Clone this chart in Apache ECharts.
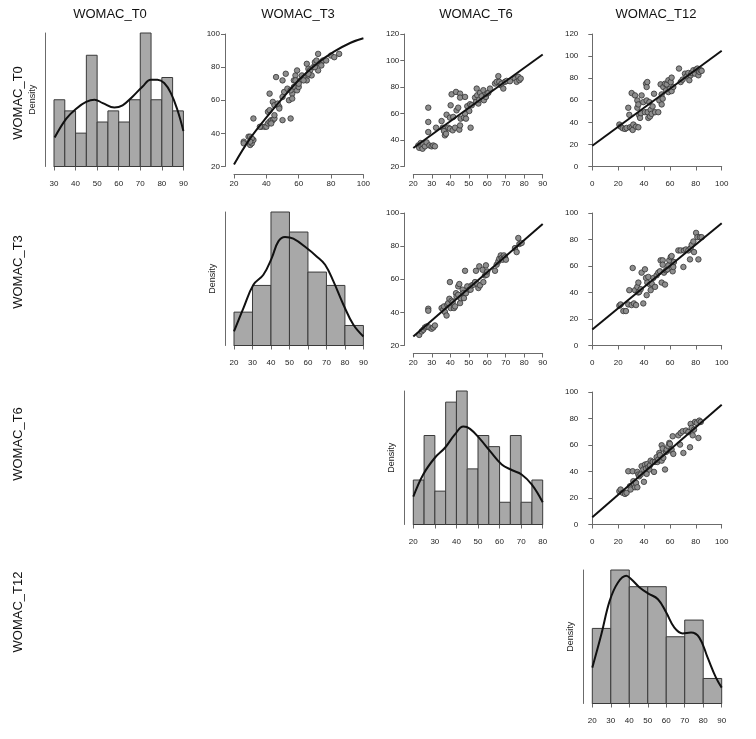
<!DOCTYPE html>
<html>
<head>
<meta charset="utf-8">
<script src="https://cdn.jsdelivr.net/npm/echarts@6/dist/echarts.min.js"></script>
<style>html,body{margin:0;padding:0;background:#fff}#c{width:756px;height:739px}</style>
</head>
<body>
<div id="c"></div>
<script>
// ---------- DATA ----------
const varNames = ['WOMAC_T0', 'WOMAC_T3', 'WOMAC_T6', 'WOMAC_T12'];

// Histograms: bin edges and counts
const histT0Edges = [30,35,40,45,50,55,60,65,70,75,80,85,90];
const histT0Counts = [6,5,3,10,4,5,4,6,12,6,8,5];
const histT3Edges = [20,30,40,50,60,70,80,90];
const histT3Counts = [5,9,20,17,11,9,3];
const histT6Edges = [20,25,30,35,40,45,50,55,60,65,70,75,80];
const histT6Counts = [4,8,3,11,12,5,8,7,2,8,2,4];
const histT12Edges = [20,30,40,50,60,70,80,90];
const histT12Counts = [9,16,14,14,8,10,3];

// Density curves (in count units of each histogram)
const densT0 = [[30.3,2.6],[35.7,4.3],[40.3,5.2],[44.9,5.8],[48.8,6.0],[52.6,5.7],[58,5.3],[61.8,5.5],[66.5,6.3],[71.1,7.2],[74.9,7.8],[78,7.8],[81.1,7.5],[84.2,6.6],[87.2,5.1],[90,3.2]];
const densT3 = [[20,2.1],[25.1,5.6],[30.5,9.1],[35.9,10.6],[40.4,13.1],[44,15.6],[47.6,16.25],[52.1,16],[59.3,14.6],[64.7,13.35],[69.3,12.1],[73.8,9.6],[79.2,6.1],[84.6,3.1],[90,1.35]];
const densT6 = [[20,2.5],[24.6,4.5],[30,6.0],[34.7,6.9],[39.3,8.1],[43.2,8.8],[46.3,8.6],[50.9,7.7],[55.6,6.6],[61,5.4],[65.6,4.9],[70.2,4.5],[74.9,3.6],[80,2.0]];
const densT12 = [[20,4.3],[24.9,8.3],[29.4,12.3],[33.9,14.5],[38.4,15.3],[41.1,14.9],[45.6,13.9],[50.1,13.2],[55.5,12.5],[60,10.9],[64.4,9.1],[68.9,8.4],[73.4,8.5],[77.9,7.9],[82.4,5.5],[86.9,3.1],[90,1.9]];

// Scatter panels: [x, y]
const ptsT3_T0 = [[26,35],[26,34],[29,38],[30,38],[30,33],[31,34],[32,36],[31,37],[32,49],[30,35],[37,44],[39,44],[40,44],[41,46],[42,47],[43,48],[44,48],[45,49],[41,53],[42,54],[44,59],[45,57],[42,64],[45,51],[46,74],[48,56],[48,55],[50,48],[50,72],[51,65],[52,76],[53,67],[54,60],[55,49],[56,64],[56,61],[57,72],[57,68],[58,75],[58,72],[59,66],[59,78],[60,68],[61,72],[62,75],[64,74],[65,82],[66,79],[65,72],[66,75],[67,78],[68,75],[69,80],[70,83],[72,88],[71,84],[72,78],[73,82],[74,83],[75,84],[77,84],[80,87],[82,86],[85,88],[60,70],[63,72],[55,66],[47,58],[43,46],[50,62],[36,44],[66,76],[74,81],[70,80]];
const curveT3_T0 = [[20,21.2],[29.9,36.8],[40.3,49.9],[50.7,62],[61,73.1],[71.4,82.2],[81.8,89.3],[92.1,94.7],[100,97.4]];

const ptsT6_T0 = [[22.7,35.9],[23.2,34.1],[24,37.7],[24.5,35.2],[25,33.4],[25.4,36.7],[26.3,35.2],[27.2,38.2],[28.1,64.4],[28.1,53.6],[28.1,46],[28.7,35.9],[29.9,35.2],[30.8,35.9],[31.7,35.2],[32.3,49.3],[35.3,54.3],[35.9,49.3],[36.6,46.8],[37.1,43.5],[37.7,44.7],[38,59.1],[38.9,49.3],[39.8,56.9],[39.8,48.5],[40.2,66.2],[40.7,74.5],[41.3,47.3],[41.6,57.4],[42.6,49.3],[43.1,76.3],[43.4,62.4],[44.3,64.4],[45.3,75],[45.3,72],[44.9,47.8],[45.3,51],[45.6,56.1],[47.4,56.9],[48,72.5],[48,59.9],[48.5,56.1],[49.2,65.5],[51,49.3],[50.3,61.9],[50.7,67],[51.6,66.2],[53.4,72],[53.9,68.7],[54.3,78.8],[54.6,73.8],[55.2,67.5],[55.7,70.5],[56.1,75.6],[57,73],[57.9,77.6],[58.2,70],[59.3,72.5],[59.7,75],[60.6,75.6],[61.5,78.8],[64.2,82.6],[65.1,83.9],[66,88.2],[66.5,83.9],[67.3,81.4],[67.8,82.6],[68.7,78.8],[69.6,83.9],[70.5,84.6],[72.3,84.4],[75,86.4],[75.9,83.9],[76.8,87.7],[77.4,85.2],[78.1,86.4]];
const lineT6_T0 = [[20,34],[90,104.5]];

const ptsT12_T0 = [[20.9,38],[21.9,36.1],[23.5,34.6],[25.3,34],[26.5,34.9],[27.8,53.2],[28.6,46.8],[29.1,35.5],[30.4,34.9],[30.4,66.5],[31.2,33.1],[31.7,38],[33,64.4],[33.8,36.1],[34.8,53.2],[34.8,59.8],[35.6,35.5],[35.6,56.2],[36.3,46.2],[36.9,44],[37.6,48.3],[38.1,64.4],[39.4,58.3],[40.7,49.2],[41.5,75],[42,72],[42.5,76.5],[42,59.8],[42.8,49.2],[43.3,44],[44.1,58.3],[44.6,45.3],[45.1,51.3],[45.9,47.7],[46.6,54.4],[47.7,65.9],[48.5,49.2],[51,49.2],[51.8,59.8],[52.8,74.4],[53.6,65.3],[53.6,56.2],[54.4,61.4],[54.9,72],[56.2,75],[57,69],[57.5,74.4],[58.8,78.1],[58.8,67.4],[60,70.5],[60.6,76.5],[61.3,80.5],[61.3,68.3],[62.6,72],[67,88.7],[68.3,76.5],[69.8,78.7],[71.6,84.1],[72.9,81.7],[74.2,84.7],[75,78.1],[76,82.6],[76.8,84.7],[78.1,87.2],[79.4,84.1],[80.2,87.8],[81.2,88.7],[82,82.6],[82.7,85.7],[83.8,87.2],[84.5,86.6]];
const lineT12_T0 = [[0,18.8],[100,104.8]];

const ptsT6_T3 = [[23.2,26.4],[24.5,28.5],[25.4,29.5],[26.3,30.9],[27.2,31.5],[28.1,42.2],[28.1,41],[28.7,30.9],[29.9,30.1],[30.8,30.9],[31.7,32.1],[35.3,42.6],[36.2,41.6],[36.6,43.6],[37.1,40.2],[38,38.1],[38.4,44.6],[38.9,45.6],[39.5,48.2],[39.8,58.3],[40.2,42.6],[40.7,47],[41.3,46.2],[42,42.6],[42.6,43.6],[43.1,51.6],[43.4,49.6],[44.3,50.6],[44.3,55.7],[44.9,57.1],[45.3,45.6],[45.6,48.6],[46.7,53.7],[47.1,51.6],[47.4,48.6],[48,65.1],[48.5,51.6],[49.2,55.7],[50.3,53.7],[51,53.7],[51.6,56.3],[52.5,56.7],[53.4,58.3],[53.9,65.1],[54.6,57.1],[55.2,54.7],[55.7,67.8],[56.1,56.3],[57.5,65.7],[57.9,58.3],[58.8,62.3],[59.3,68.4],[59.7,62.7],[60,64.7],[64.2,65.1],[65.1,68.8],[66,70.8],[66.5,72.4],[67.3,74.4],[67.8,72.8],[68.3,71.8],[69,74.4],[69.6,73.2],[70.1,71.8],[75,78.8],[75.9,76.4],[76.8,84.9],[77.4,81.3],[78.6,81.9]];
const lineT6_T3 = [[20,25.4],[90,93.3]];

const ptsT12_T3 = [[20.9,30],[21.9,31],[24,26],[26,26],[27.8,31],[28.6,41.75],[30.4,30.5],[31.2,58.5],[32.2,31.75],[33,41.75],[33.8,30.5],[34.8,44.25],[35.6,47.5],[35.6,40],[36.3,40.5],[37.4,42.5],[38.1,55],[39.4,31.75],[40.7,57.5],[41.5,51],[42,38],[42.5,47.5],[43.3,51.75],[44.6,46],[45.1,41.75],[45.9,46.75],[47.2,51],[48.5,44.25],[49.7,53],[51,55],[52.3,56],[52.8,64.25],[53.6,47.5],[54.4,64.25],[54.4,61],[55.4,55],[56.2,46],[57,56.75],[58,57.5],[58.8,60.5],[59.5,64.25],[60.6,66.75],[61.3,67.5],[62.1,56],[62.6,59.25],[63.1,63],[66.5,71.75],[68.3,71.75],[70.4,59.25],[70.9,71.75],[72.4,72.5],[74.2,71.75],[75.5,65],[76,73.5],[76.8,76],[78.1,78.5],[78.6,70.5],[80.2,85],[81.2,81.75],[82,65],[83.2,81.75],[84.5,81.75]];
const lineT12_T3 = [[0,12],[100,92.3]];

const ptsT12_T6 = [[20.9,25.1],[21.9,26.4],[23.5,23.9],[25.3,23.1],[26.5,23.9],[27.8,40.2],[29.1,28.9],[29.6,26.4],[31.2,40.2],[31.7,32.7],[32.2,30.2],[33,28.1],[33.8,31.4],[34.8,28.1],[34.8,39.7],[35.6,37.7],[36.3,36.4],[37.4,37.7],[38.1,44],[39.4,41.5],[39.9,32.2],[40.7,45.2],[41.5,42.2],[42,38.2],[42.5,45.7],[43.3,43.2],[44.1,41.5],[44.6,44.7],[45.1,48.2],[46.6,47.2],[47.7,39.7],[48.5,47.2],[49.7,50.8],[50.3,47.2],[51,49],[51.8,54],[52.3,52.3],[53.6,48.2],[53.6,59.8],[54.4,57.3],[54.9,50.3],[56.2,41.5],[57,54.8],[57.5,56.5],[58.8,59],[59.5,61.6],[60,60.8],[60.6,55.8],[61.3,56.5],[62.1,66.6],[62.6,53.3],[66.5,67.3],[67.8,60.3],[68.3,69.1],[69.8,70.4],[70.4,54],[72.4,70.9],[74.2,69.8],[75.5,58.3],[76,75.9],[76.8,72.9],[77.6,67.3],[78.6,71.6],[79.4,77.4],[80.7,76.6],[82,65.3],[82.7,78.4],[83.8,77.4]];
const lineT12_T6 = [[0,5.5],[100,90.3]];

// ---------- LAYOUT ----------
const colLeft = [54, 234, 413.3, 592.3];
const rowTop = [34, 213, 392, 571];
const panelW = 129.4, panelH = 132.5;

const AX = '#6b6b6b', TXT = '#222', FONT = 'Liberation Sans, Arial, sans-serif';

const grids = [], xAxes = [], yAxes = [], series = [];

function addPanel(r, c, xr, yr, hist) {
  const gi = grids.length;
  grids.push({left: colLeft[c], top: rowTop[r] - (hist ? 1 : 0), width: panelW, height: panelH + (hist ? 1 : 0)});
  xAxes.push({
    gridIndex: gi, type: 'value', min: xr[0], max: xr[1], interval: xr[2], offset: 8,
    axisLine: {show: true, lineStyle: {color: AX, width: 1}},
    axisTick: {show: true, length: 4, lineStyle: {color: AX}},
    axisLabel: {fontSize: 8, color: TXT, margin: 5, fontFamily: FONT, showMinLabel: true, showMaxLabel: true},
    splitLine: {show: false}
  });
  if (hist) {
    yAxes.push({
      gridIndex: gi, type: 'value', min: 0, max: yr[1], offset: 9,
      name: 'Density', nameLocation: 'middle', nameGap: 8,
      nameTextStyle: {fontSize: 9, color: TXT, fontFamily: FONT},
      axisLine: {show: true, lineStyle: {color: AX, width: 1}},
      axisTick: {show: false}, axisLabel: {show: false}, splitLine: {show: false}
    });
  } else {
    yAxes.push({
      gridIndex: gi, type: 'value', min: yr[0], max: yr[1], interval: yr[2], offset: 9,
      axisLine: {show: true, lineStyle: {color: AX, width: 1}},
      axisTick: {show: true, length: 4, lineStyle: {color: AX}},
      axisLabel: {fontSize: 8, color: TXT, margin: 5, fontFamily: FONT, showMinLabel: true, showMaxLabel: true},
      splitLine: {show: false}
    });
  }
  return gi;
}

function addHist(r, c, edges, counts, dens, xr) {
  const gi = addPanel(r, c, xr, [0, Math.max(...counts)], true);
  const data = counts.map((v, i) => [edges[i], edges[i + 1], v]);
  series.push({
    type: 'custom', xAxisIndex: gi, yAxisIndex: gi, data: data,
    encode: {x: [0, 1], y: 2},
    renderItem: function (params, api) {
      const p0 = api.coord([api.value(0), 0]);
      const p1 = api.coord([api.value(1), api.value(2)]);
      return {type: 'rect', shape: {x: p0[0], y: p1[1], width: p1[0] - p0[0], height: p0[1] - p1[1]},
        style: {fill: '#a8a8a8', stroke: '#3a3a3a', lineWidth: 1}};
    }
  });
  series.push({type: 'line', xAxisIndex: gi, yAxisIndex: gi, data: dens, smooth: 0.4, showSymbol: false,
    lineStyle: {color: '#111', width: 2}, z: 5});
}

function addScatter(r, c, xr, yr, pts, line, smooth) {
  const gi = addPanel(r, c, xr, yr, false);
  series.push({type: 'scatter', xAxisIndex: gi, yAxisIndex: gi, data: pts, symbolSize: 5.5,
    itemStyle: {color: '#8e8e8e', borderColor: '#333', borderWidth: 0.8, opacity: 1}});
  series.push({type: 'line', xAxisIndex: gi, yAxisIndex: gi, data: line, smooth: smooth ? 0.4 : false, showSymbol: false,
    lineStyle: {color: '#111', width: 2}, z: 5});
}

addHist(0, 0, histT0Edges, histT0Counts, densT0, [30, 90, 10]);
addScatter(0, 1, [20, 100, 20], [20, 100, 20], ptsT3_T0, curveT3_T0, true);
addScatter(0, 2, [20, 90, 10], [20, 120, 20], ptsT6_T0, lineT6_T0, false);
addScatter(0, 3, [0, 100, 20], [0, 120, 20], ptsT12_T0, lineT12_T0, false);
addHist(1, 1, histT3Edges, histT3Counts, densT3, [20, 90, 10]);
addScatter(1, 2, [20, 90, 10], [20, 100, 20], ptsT6_T3, lineT6_T3, false);
addScatter(1, 3, [0, 100, 20], [0, 100, 20], ptsT12_T3, lineT12_T3, false);
addHist(2, 2, histT6Edges, histT6Counts, densT6, [20, 80, 10]);
addScatter(2, 3, [0, 100, 20], [0, 100, 20], ptsT12_T6, lineT12_T6, false);
addHist(3, 3, histT12Edges, histT12Counts, densT12, [20, 90, 10]);

// Titles
const colTitleX = [110, 298, 476, 656];
const rowTitleY = [103, 272, 444, 612];
const graphics = [];
varNames.forEach((n, i) => {
  graphics.push({type: 'text', x: colTitleX[i], y: 14,
    style: {text: n, font: '13px ' + FONT, fill: '#111', textAlign: 'center', textVerticalAlign: 'middle'}});
  graphics.push({type: 'text', x: 18, y: rowTitleY[i], rotation: Math.PI / 2,
    style: {text: n, font: '13px ' + FONT, fill: '#111', textAlign: 'center', textVerticalAlign: 'middle'}});
});

const chart = echarts.init(document.getElementById('c'), null, {renderer: 'canvas'});
chart.setOption({
  animation: false,
  backgroundColor: '#fff',
  grid: grids, xAxis: xAxes, yAxis: yAxes, series: series, graphic: graphics
});
</script>
</body>
</html>
